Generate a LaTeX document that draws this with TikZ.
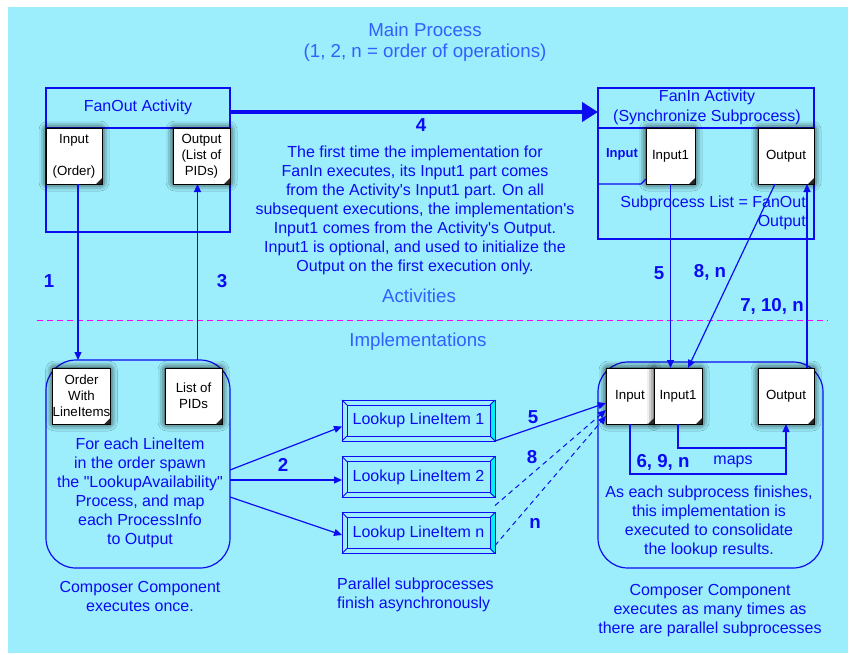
\documentclass[tikz,border=0pt]{standalone}
\usepackage{fontspec}
\setmainfont{Liberation Sans}[Ligatures=TeXOff]
\usepackage{tikz}
\usetikzlibrary{arrows.meta, shadows.blur}

\definecolor{bgcyan}{HTML}{9CEEFC}
\definecolor{lineblue}{HTML}{0C0CF0}
\definecolor{textblue}{HTML}{0A0AF5}
\definecolor{headblue}{HTML}{3060FF}
\definecolor{stripcyan}{HTML}{00F0F8}
\definecolor{divider}{HTML}{FF00FF}

% dog-ear in the lower right corner of a document icon
\newcommand{\docfold}[1]{%
  \fill[black!85] ([xshift=-6pt]#1.south east) -- (#1.south east) -- ([yshift=6pt]#1.south east) -- cycle;}
% bevelled frame of a subprocess box
\newcommand{\bevel}[1]{%
  \fill[stripcyan] ([xshift=-5pt,yshift=-5pt]#1.north east) -- (#1.north east) -- (#1.south east) -- ([xshift=-5pt,yshift=5pt]#1.south east) -- cycle;
  \draw[lineblue, line width=1pt] (#1.north west) rectangle (#1.south east);
  \draw[lineblue, line width=0.9pt] ([xshift=5pt,yshift=-5pt]#1.north west) rectangle ([xshift=-5pt,yshift=5pt]#1.south east);
  \foreach \c/\dx/\dy in {north west/5/-5, north east/-5/-5, south west/5/5, south east/-5/5}
    \draw[lineblue, line width=0.9pt] (#1.\c) -- ([xshift=\dx pt,yshift=\dy pt]#1.\c);}

\begin{document}
\begin{tikzpicture}[x=1pt, y=-1pt,
    actbox/.style={rectangle, draw=lineblue, line width=1.2pt, outer sep=0pt},
    compbox/.style={rectangle, rounded corners=30pt, draw=lineblue, line width=1.2pt, outer sep=0pt},
    doc/.style={rectangle, draw=black, fill=white, line width=0.8pt, inner sep=0pt, outer sep=0pt,
                align=center, text=black, font={\fontsize{13.3}{16}\selectfont},
                blur shadow={shadow xshift=0pt, shadow yshift=0pt, shadow blur radius=7pt,
                             shadow blur extra rounding=2pt, shadow opacity=95}},
    lookup/.style={rectangle, line width=1pt, outer sep=0pt, minimum width=153pt, minimum height=41pt,
                   text=textblue, font={\fontsize{16}{19}\selectfont}},
    txt/.style={align=center, text=textblue, inner sep=0pt, font={\fontsize{16}{19}\selectfont}},
    head/.style={align=center, text=headblue, inner sep=0pt, font={\fontsize{18.7}{21}\selectfont}},
    num/.style={text=textblue, inner sep=0pt, font={\fontsize{18.7}{21}\selectfont\bfseries}},
    wire/.style={draw=lineblue, line width=1.2pt},
    flow/.style={wire, -{Triangle[length=8pt,width=7pt]}},
    lateflow/.style={flow, line width=1pt, dash pattern=on 5pt off 4pt},
    mainflow/.style={draw=lineblue, line width=4pt, -{Triangle[length=16pt,width=19pt]}}
]
\useasboundingbox (0,0) rectangle (850,654);
\fill[bgcyan] (8,7) rectangle (848,653);

\node[head] (title) at (425,42.5) {Main Process\\(1, 2, n = order of operations)};

% activities
\node[actbox, minimum width=184pt, minimum height=144pt] (fanout) at (138,160) {};
\draw[wire] ([yshift=-40pt]fanout.north west) -- ([yshift=-40pt]fanout.north east);
\node[txt] (fo-title) at (138,107) {FanOut Activity};
\node[doc, minimum width=56pt, minimum height=56pt] (fo-in) at (74,156) {Input\\[16pt](Order)};
\node[doc, minimum width=57pt, minimum height=56pt] (fo-out) at (201.5,156) {Output\\(List of\\PIDs)};
\docfold{fo-in}
\docfold{fo-out}

\node[actbox, minimum width=216pt, minimum height=151pt] (fanin) at (706,163.5) {};
\draw[wire] ([yshift=-40pt]fanin.north west) -- ([yshift=-40pt]fanin.north east);
\node[txt, font={\fontsize{16}{20}\selectfont}] (fi-title) at (707,107) {FanIn Activity\\(Synchronize Subprocess)};
\node[txt, font={\fontsize{13}{16}\selectfont\bfseries}] (fi-inlabel) at (622,154) {Input};
\node[doc, minimum width=49pt, minimum height=56pt] (fi-in1) at (670.5,156) {Input1};
\node[doc, minimum width=56pt, minimum height=56pt] (fi-out) at (786,156) {Output};
\docfold{fi-in1}
\docfold{fi-out}
\draw[wire] (fanin.west |- fi-in1.south) -- ([xshift=-5pt]fi-in1.south west) -- ([yshift=5pt]fi-in1.south west);
\node[txt, align=right, anchor=east] (fi-sublist) at (806,212.5) {Subprocess List = FanOut\\Output};

\draw[mainflow] ([yshift=-24pt]fanout.north east) -- ([yshift=-24pt]fanin.north west);
\node[num] (n4) at (421,125) {4};
\node[txt] (note) at (415,210.5) {The first time the implementation for\\FanIn executes, its Input1 part comes\\from the Activity's Input1 part.  On all\\subsequent executions, the implementation's\\Input1 comes from the Activity's Output.\\Input1 is optional, and used to initialize the\\Output on the first execution only.};

\node[head] (activities) at (419,296) {Activities};
\draw[divider, line width=1pt, dash pattern=on 6pt off 4pt] (37,320) -- (828,320);
\node[head] (impls) at (418,342) {Implementations};

% implementations
\node[compbox, minimum width=184pt, minimum height=208pt] (llbox) at (138,464) {};
\node[doc, minimum width=57pt, minimum height=56pt] (ll-order) at (81.5,396) {Order\\With\\LineItems};
\node[doc, minimum width=57pt, minimum height=56pt] (ll-list) at (193.5,396) {List of\\PIDs};
\docfold{ll-order}
\docfold{ll-list}
\node[txt] (ll-text) at (140,493) {For each LineItem\\in the order spawn\\the "LookupAvailability"\\Process, and map\\each ProcessInfo\\to Output};
\node[txt] (ll-caption) at (140,596.5) {Composer Component\\executes once.};

\node[lookup] (lk1) at (418.5,420.5) {Lookup LineItem 1};
\node[lookup] (lk2) at (418.5,477) {Lookup LineItem 2};
\node[lookup] (lk3) at (418.5,533) {Lookup LineItem n};
\bevel{lk1}
\bevel{lk2}
\bevel{lk3}
\node[txt, align=left, anchor=west] (lk-caption) at (337,594.5) {Parallel subprocesses\\finish asynchronously};

\node[compbox, minimum width=225pt, minimum height=206pt] (lrbox) at (710.5,465) {};
\node[doc, minimum width=48pt, minimum height=56pt] (lr-in) at (630,396) {Input};
\node[doc, minimum width=48pt, minimum height=56pt] (lr-in1) at (678,396) {Input1};
\node[doc, minimum width=56pt, minimum height=56pt] (lr-out) at (786,396) {Output};
\docfold{lr-in}
\docfold{lr-in1}
\docfold{lr-out}
\draw[flow] (lr-in.south) -- ++(0,50) -| (lr-out.south);
\draw[wire] (lr-in1.south) |- ([yshift=-24pt]lr-out.south);
\node[num] (n69) at (663,462) {6, 9, n};
\node[txt] (maps) at (733,462) {maps};
\node[txt] (lr-text) at (709,522) {As each subprocess finishes,\\this implementation is\\executed to consolidate\\the lookup results.};
\node[txt] (lr-caption) at (710,611) {Composer Component\\executes as many times as\\there are parallel subprocesses};

% order of operations
\coordinate (in-foot) at ([xshift=4pt]fo-in.south);
\coordinate (out-foot) at ([xshift=-4pt]fo-out.south);
\draw[flow] (in-foot) -- (in-foot |- llbox.north);
\node[num] (n1) at (49,281) {1};
\draw[flow] (out-foot |- llbox.north) -- (out-foot);
\node[num] (n3) at (222,281) {3};

\draw[flow] ([yshift=-6pt]llbox.east) -- ([yshift=-6pt]lk1.west);
\draw[flow] ([yshift=-16pt]llbox.east) -- ([yshift=-3pt]lk2.west);
\draw[flow] ([yshift=-33pt]llbox.east) -- ([yshift=-2pt]lk3.west);
\node[num] (n2) at (283,465) {2};

\draw[flow] (lk1.south east) -- ([yshift=-7pt]lr-in.west);
\draw[lateflow] ([yshift=-8pt]lk2.south east) -- ([yshift=-14pt]lr-in.west);
\draw[lateflow] ([yshift=8pt]lk3.south east) -- ([yshift=-20pt]lr-in.west);
\node[num] (n5b) at (533,417) {5};
\node[num] (n8) at (532,457) {8};
\node[num] (nn) at (535,523) {n};

\coordinate (in1-foot) at (fi-in1.south);
\draw[flow] (in1-foot) -- (in1-foot |- lr-in1.north);
\node[num] (n5a) at (659,273) {5};
\draw[flow] ([xshift=-11pt]fi-out.south) -- ([xshift=10pt]lr-in1.north);
\node[num] (n8n) at (710,272) {8, n};
\draw[flow] ([xshift=21pt]lr-out.north) -- ([xshift=21pt]fi-out.south);
\node[num] (n710) at (772,306) {7, 10, n};
\end{tikzpicture}
\end{document}
